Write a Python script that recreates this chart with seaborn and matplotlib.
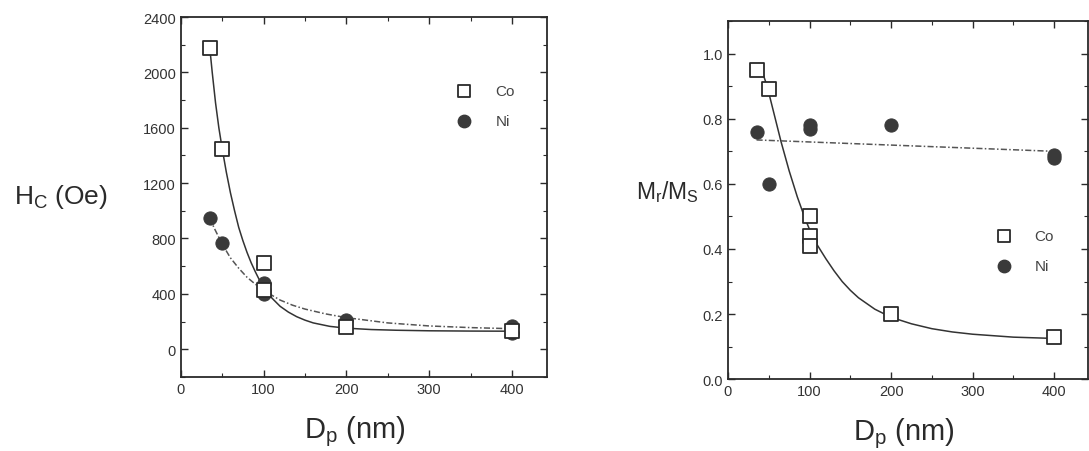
import matplotlib
matplotlib.use("Agg")
import matplotlib.pyplot as plt
import seaborn as sns
from matplotlib.ticker import MultipleLocator, FormatStrFormatter

sns.set_theme(style="ticks")
plt.rcParams["font.family"] = ["Liberation Sans", "DejaVu Sans"]
plt.rcParams["mathtext.fontset"] = "custom"
plt.rcParams["mathtext.rm"] = "Liberation Sans"
plt.rcParams["mathtext.it"] = "Liberation Sans"

INK = "#2a2a2a"

# --- coercivity panel (Hc vs particle size) ---
hc_co_x = [35, 50, 100, 100, 200, 400]
hc_co_y = [2180, 1450, 620, 430, 160, 130]
hc_ni_x = [35, 50, 100, 100, 100, 200, 400, 400]
hc_ni_y = [950, 770, 480, 430, 400, 210, 170, 120]

# fitted curves as drawn in the figure
hc_co_fit_x = [35, 38, 42, 46, 50, 55, 60, 65, 70, 75, 80, 85, 90, 95, 100,
               110, 120, 130, 140, 150, 160, 180, 200, 230, 260, 300, 350, 400]
hc_co_fit_y = [2180, 2000, 1780, 1600, 1450, 1280, 1130, 1000, 880, 785, 700,
               625, 560, 500, 445, 370, 310, 268, 235, 210, 190, 165, 152, 142,
               137, 133, 131, 130]
hc_ni_fit_x = [35, 40, 50, 60, 70, 80, 90, 100, 110, 120, 135, 150, 175, 200,
               250, 300, 350, 400]
hc_ni_fit_y = [950, 880, 760, 660, 585, 520, 470, 430, 390, 355, 318, 290, 255,
               228, 190, 168, 156, 148]

# --- remanence ratio panel (Mr/Ms vs particle size) ---
mr_co_x = [35, 50, 100, 100, 100, 200, 400]
mr_co_y = [0.95, 0.89, 0.50, 0.44, 0.41, 0.20, 0.13]
mr_ni_x = [35, 50, 100, 100, 200, 400, 400]
mr_ni_y = [0.76, 0.60, 0.78, 0.77, 0.78, 0.69, 0.68]

mr_co_fit_x = [38, 42, 46, 50, 55, 60, 65, 70, 75, 80, 85, 90, 95, 100, 110,
               120, 130, 140, 150, 160, 180, 200, 225, 250, 275, 300, 350, 400]
mr_co_fit_y = [0.97, 0.945, 0.915, 0.88, 0.83, 0.78, 0.73, 0.685, 0.64, 0.60,
               0.56, 0.525, 0.49, 0.46, 0.41, 0.37, 0.333, 0.30, 0.273, 0.25,
               0.215, 0.19, 0.17, 0.155, 0.145, 0.138, 0.129, 0.125]
mr_ni_fit_x = [35, 400]
mr_ni_fit_y = [0.735, 0.70]


def style_axes(ax):
    for s in ax.spines.values():
        s.set_visible(True)
        s.set_color(INK)
        s.set_linewidth(1.3)
    ax.tick_params(which="both", direction="in", top=True, right=True,
                   colors=INK, labelsize=10.5, labelcolor="#333333")
    ax.tick_params(which="major", length=5, width=1)
    ax.tick_params(which="minor", length=3, width=0.8)
    ax.xaxis.set_major_locator(MultipleLocator(100))
    ax.xaxis.set_minor_locator(MultipleLocator(50))
    ax.set_xlim(0, 442)


def draw_panel(ax, co_x, co_y, ni_x, ni_y, cfx, cfy, nfx, nfy):
    sns.lineplot(x=cfx, y=cfy, ax=ax, color="#333333", lw=1.1, sort=False)
    sns.lineplot(x=nfx, y=nfy, ax=ax, color="#555555", lw=1.1, sort=False,
                 linestyle=(0, (4, 1.5, 1, 1.5)))
    sns.scatterplot(x=ni_x, y=ni_y, ax=ax, marker="o", s=90, color="#3a3a3a",
                    edgecolor="#3a3a3a", zorder=3)
    sns.scatterplot(x=co_x, y=co_y, ax=ax, marker="s", s=110, facecolor="white",
                    edgecolor="#2a2a2a", linewidth=1.3, zorder=4)


def legend(ax, x, y, dy):
    ax.scatter([x], [y], marker="s", s=80, facecolor="white", edgecolor=INK,
               linewidth=1.3, transform=ax.transAxes, clip_on=False, zorder=5)
    ax.scatter([x], [y - dy], marker="o", s=80, color="#3a3a3a",
               transform=ax.transAxes, clip_on=False, zorder=5)
    ax.text(x + 0.085, y, "Co", transform=ax.transAxes, va="center",
            fontsize=11, color="#444444")
    ax.text(x + 0.085, y - dy, "Ni", transform=ax.transAxes, va="center",
            fontsize=11, color="#444444")


fig = plt.figure(figsize=(10.89, 4.52), dpi=100)
ax1 = fig.add_axes([0.166, 0.164, 0.336, 0.796])
ax2 = fig.add_axes([0.6685, 0.159, 0.331, 0.792])

draw_panel(ax1, hc_co_x, hc_co_y, hc_ni_x, hc_ni_y,
           hc_co_fit_x, hc_co_fit_y, hc_ni_fit_x, hc_ni_fit_y)
style_axes(ax1)
ax1.set_ylim(-200, 2400)
ax1.yaxis.set_major_locator(MultipleLocator(400))
ax1.yaxis.set_minor_locator(MultipleLocator(200))
legend(ax1, 0.775, 0.795, 0.083)

draw_panel(ax2, mr_co_x, mr_co_y, mr_ni_x, mr_ni_y,
           mr_co_fit_x, mr_co_fit_y, mr_ni_fit_x, mr_ni_fit_y)
style_axes(ax2)
ax2.set_ylim(0, 1.1)
ax2.yaxis.set_major_locator(MultipleLocator(0.2))
ax2.yaxis.set_minor_locator(MultipleLocator(0.1))
ax2.yaxis.set_major_formatter(FormatStrFormatter("%.1f"))
legend(ax2, 0.765, 0.40, 0.083)

for ax in (ax1, ax2):
    ax.set_xlabel("")
    ax.set_ylabel("")

fig.text(0.326, 0.03, r"D$_\mathrm{p}$ (nm)", ha="center", fontsize=21, color=INK)
fig.text(0.83, 0.025, r"D$_\mathrm{p}$ (nm)", ha="center", fontsize=21, color=INK)
fig.text(0.013, 0.565, r"H$_\mathrm{C}$ (Oe)", ha="left", va="center",
         fontsize=19, color=INK)
fig.text(0.584, 0.575, r"M$_\mathrm{r}$/M$_\mathrm{S}$", ha="left", va="center",
         fontsize=16.5, color=INK)

fig.savefig("out.png", dpi=100, facecolor="white")
